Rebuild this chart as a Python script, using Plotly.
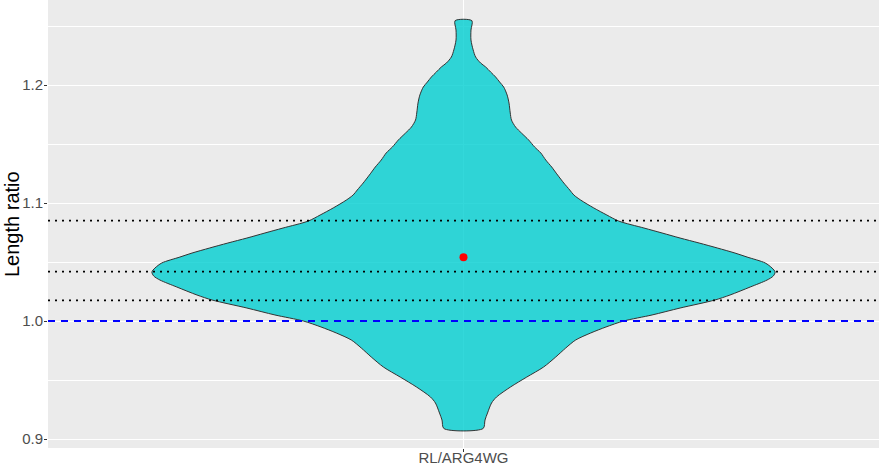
import plotly.graph_objects as go

# ---- data ----
category = "RL/ARG4WG"

# violin outline: ratio level and normalised density (max = 1), top to bottom
ratio_levels = [1.2545, 1.2466, 1.2381, 1.2297, 1.2237, 1.2186, 1.2153, 1.2110,
                1.2068, 1.2025, 1.1983, 1.1915, 1.1847, 1.1763, 1.1703, 1.1644,
                1.1593, 1.1534, 1.1475, 1.1424, 1.1364, 1.1305, 1.1237, 1.1169,
                1.1110, 1.1068, 1.1025, 1.0958, 1.0898, 1.0847, 1.0788, 1.0746,
                1.0703, 1.0661, 1.0619, 1.0576, 1.0542, 1.0492, 1.0449, 1.0415,
                1.0381, 1.0347, 1.0288, 1.0220, 1.0178, 1.0110, 1.0051, 1.0000,
                0.9949, 0.9898, 0.9839, 0.9771, 0.9695, 0.9610, 0.9525, 0.9441,
                0.9356, 0.9305, 0.9220, 0.9161, 0.9089]
density = [0.027, 0.024, 0.024, 0.031, 0.039, 0.055, 0.071, 0.087,
           0.103, 0.116, 0.129, 0.140, 0.146, 0.150, 0.154, 0.167,
           0.186, 0.209, 0.228, 0.248, 0.264, 0.283, 0.302, 0.322,
           0.341, 0.354, 0.376, 0.418, 0.460, 0.498, 0.579, 0.637,
           0.695, 0.756, 0.814, 0.871, 0.910, 0.968, 0.990, 1.000,
           0.994, 0.974, 0.920, 0.855, 0.807, 0.695, 0.605, 0.514,
           0.457, 0.408, 0.360, 0.328, 0.296, 0.257, 0.203, 0.151,
           0.106, 0.090, 0.077, 0.069, 0.063]

quantile_ratios = [1.0175, 1.0418, 1.0850]
mean_ratio = 1.054
reference_ratio = 1.0

y_tick_values = [0.9, 1.0, 1.1, 1.2]
y_tick_labels = ["0.9", "1.0", "1.1", "1.2"]
y_minor_values = [0.95, 1.05, 1.15, 1.25]
y_title = "Length ratio"

# ---- figure ----
center = 1.0
half_width = 0.45

left_x = [center - half_width * d for d in density]
right_x = [center + half_width * d for d in density]
path_x = left_x + right_x[::-1] + [left_x[0]]
path_y = ratio_levels + ratio_levels[::-1] + [ratio_levels[0]]

fig = go.Figure()
fig.add_trace(go.Scatter(
    x=path_x, y=path_y, mode="lines", fill="toself",
    fillcolor="rgba(0,206,209,0.8)",
    line=dict(color="#333333", width=1, shape="spline", smoothing=0.8),
    hoverinfo="skip", showlegend=False,
))

for q in quantile_ratios:
    fig.add_hline(y=q, line=dict(color="black", width=1.8, dash="2px,5px"),
                  layer="above")
fig.add_hline(y=reference_ratio, line=dict(color="#0000FF", width=1.8, dash="7px,6px"),
              layer="above")

fig.add_trace(go.Scatter(
    x=[center], y=[mean_ratio], mode="markers",
    marker=dict(color="#FF0000", size=8),
    showlegend=False,
))

fig.add_annotation(
    text=y_title, textangle=-90, xref="paper", yref="paper",
    x=0, y=0.5, xanchor="center", yanchor="middle", xshift=-36,
    showarrow=False, font=dict(size=20, color="black"),
)

fig.update_layout(
    width=879, height=465,
    margin=dict(l=48, r=0, t=0, b=17),
    paper_bgcolor="white",
    plot_bgcolor="#EBEBEB",
    font=dict(family="Liberation Sans, Arial, sans-serif", color="#4D4D4D"),
    showlegend=False,
)
fig.update_xaxes(
    range=[0.4, 1.6], tickvals=[center], ticktext=[category],
    showgrid=True, gridcolor="white", gridwidth=1.2,
    ticks="outside", ticklen=3, tickcolor="#333333", tickwidth=1,
    tickfont=dict(size=15, color="#4D4D4D"), ticklabelstandoff=-7,
    zeroline=False, showline=False, automargin=False,
)
fig.update_yaxes(
    range=[0.89237, 1.27203], tickvals=y_tick_values, ticktext=y_tick_labels,
    showgrid=True, gridcolor="white", gridwidth=1.2,
    minor=dict(tickvals=y_minor_values, showgrid=True, gridcolor="white",
               gridwidth=0.6, ticks=""),
    ticks="outside", ticklen=3, tickcolor="#333333", tickwidth=1,
    tickfont=dict(size=15, color="#4D4D4D"), ticklabelstandoff=-2,
    zeroline=False, showline=False, automargin=False,
)

fig.write_html(
    "out.html",
    config={"displayModeBar": False},
    post_script="document.body.style.margin='0';document.body.style.padding='0';"
                "document.body.style.overflow='hidden';",
)
